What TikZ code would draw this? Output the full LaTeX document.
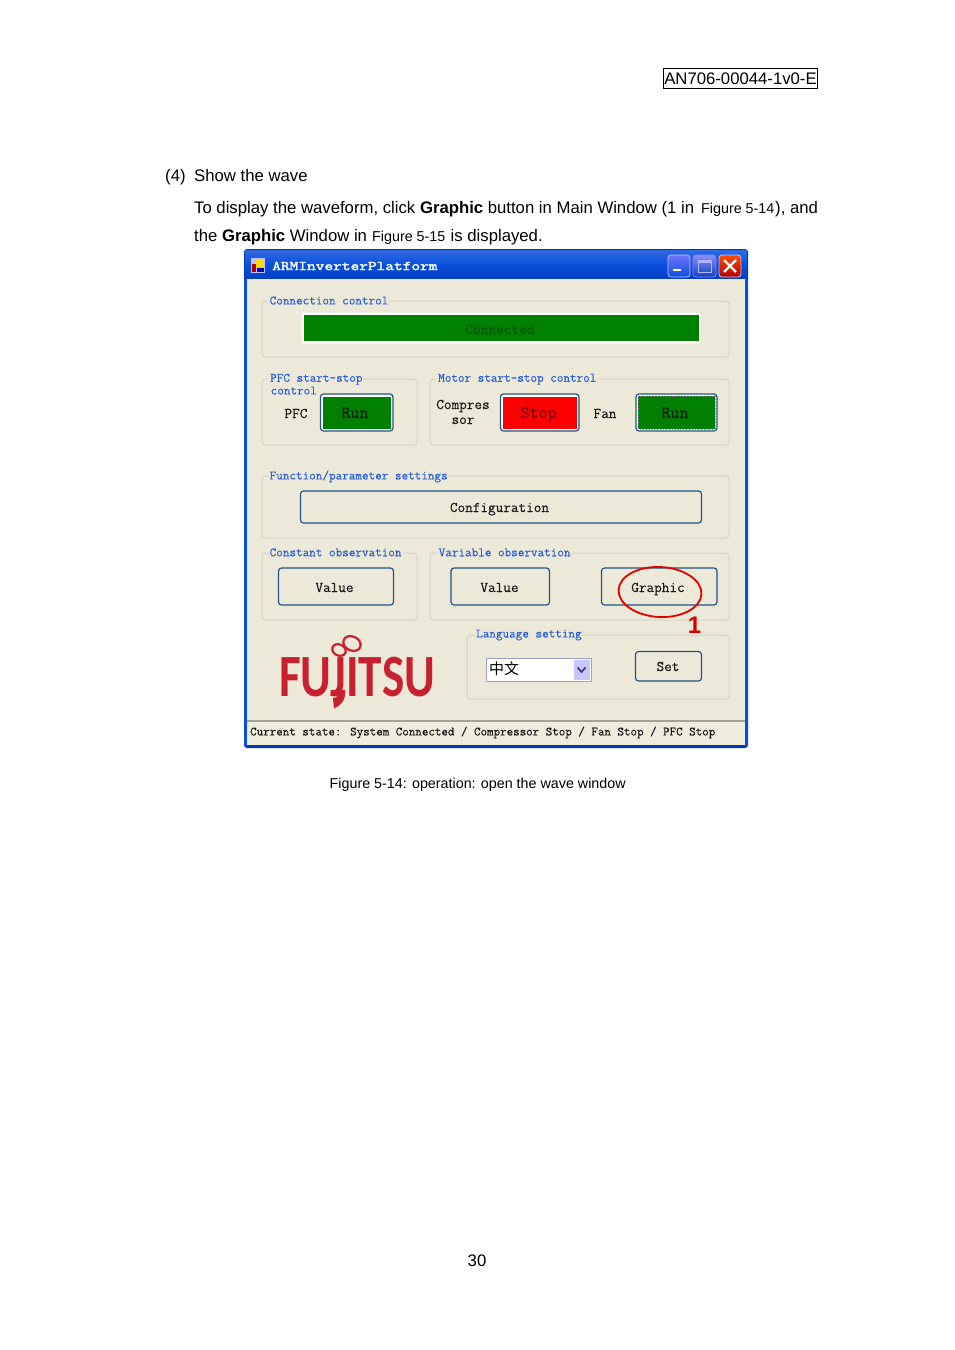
\documentclass[tikz,border=0pt]{standalone}
\usepackage{fontspec}
\setmainfont{Liberation Sans}
\newfontfamily\cjkfont{Noto Sans CJK SC}
\newfontfamily\logofont{Carlito}
\newfontfamily\guifont[FakeBold=0.35]{Latin Modern Mono}
\newfontfamily\titlefont[FakeBold=2.2]{Latin Modern Mono}
\usetikzlibrary{shapes.geometric}
\definecolor{winbg}{HTML}{ECE9D8}
\definecolor{xpblue}{HTML}{0A50DC}
\definecolor{xpdark}{HTML}{0038B8}
\definecolor{legendblue}{HTML}{2A5FD6}
\definecolor{grpline}{HTML}{D6D3C2}
\definecolor{btnline}{HTML}{1F5588}
\definecolor{okgreen}{HTML}{008000}
\definecolor{logored}{HTML}{C8202F}
\tikzset{
  body/.style={anchor=base west,inner sep=0pt,font=\fontsize{16.72}{20}\selectfont,text=black},
  smallbody/.style={anchor=base west,inner sep=0pt,font=\fontsize{14.3}{18}\selectfont,text=black},
  grp/.style={draw=grpline,line width=1pt,rounded corners=3pt},
  legendtxt/.style={anchor=west,inner sep=1pt,fill=winbg,text=legendblue,text height=8pt,text depth=2.5pt,font=\guifont\fontsize{12.8}{13}\selectfont},
  guilabel/.style={inner sep=0pt,text=black!90,text height=9pt,text depth=3pt,font=\guifont\fontsize{14.8}{13}\selectfont},
  biglabel/.style={guilabel,font=\guifont\fontsize{17.5}{13}\selectfont},
  xpbtn/.style={draw=btnline,line width=1.2pt,rounded corners=3pt,fill=winbg},
  capbtn/.style={draw=white!75!blue,line width=.8pt,rounded corners=3pt},
}
\begin{document}
\begin{tikzpicture}[x=1pt,y=-1pt]
\useasboundingbox[fill=white] (0,0) rectangle (954,1350);
% page text
\node[body,draw=black,line width=.8pt,anchor=center,minimum width=154.5pt,minimum height=20.5pt] (docid) at (740.5,78.5) {AN706-00044-1v0-E};
\node[body] (stepno) at (165,181) {(4)};
\node[body] (steptxt) at (194,181) {Show the wave};
\node[body] (l1a) at (194,213) {To display the waveform, click \textbf{Graphic} button in Main Window (1 in};
\node[smallbody] (l1b) at (701,213) {Figure 5-14};
\node[body] (l1c) at (775,213) {), and};
\node[body] (l2a) at (194,241) {the \textbf{Graphic} Window in};
\node[smallbody] (l2b) at (372,241) {Figure 5-15};
\node[body] (l2c) at (450.5,241) {is displayed.};
\node[smallbody] (cap) at (329.5,788) {Figure 5-14: operation: open the wave window};
\node[body] (pageno) at (467.5,1266) {30};
% window
\fill[xpdark,rounded corners=3pt] (244,249) rectangle (748,748);
\shade[top color=xpblue!85!white,bottom color=xpdark!70!xpblue,middle color=xpblue] (245,250) rectangle (747,279);
\fill[winbg] (247,279) rectangle (745,745);
\fill[xpblue] (244,279) rectangle (247,746);
\fill[xpblue] (745,279) rectangle (748,746);
% title bar
\fill[white!75!blue] (251,258) rectangle (265,273);
\fill[red!70!black] (252,264) rectangle (256,272);
\fill[yellow!80!orange] (256,258.5) rectangle (264,267);
\fill[blue!70!black] (257,268) rectangle (264,272);
\node[anchor=west,inner sep=0pt,text=white,xscale=1.27,font=\titlefont\fontsize{13.3}{14}\selectfont] (title) at (272,266) {ARMInverterPlatform};
\shade[capbtn,top color=blue!55!white,bottom color=xpblue] (668,255) rectangle (690,277);
\fill[white] (673,268.5) rectangle (681,271);
\shade[capbtn,draw=white!50!blue,top color=blue!45!white,bottom color=xpblue!85!black] (693,255) rectangle (716,277);
\draw[blue!30!white,line width=1pt] (698,260) rectangle (711,272);
\fill[blue!30!white] (698,260) rectangle (711,262.5);
\shade[capbtn,top color=orange!60!red,bottom color=red!70!black] (719,255) rectangle (741,277);
\draw[white,line width=2.2pt] (724,260) -- (736,272) (736,260) -- (724,272);
% group boxes
\draw[grp] (262,301) rectangle (729,357);
\draw[grp] (262,379) rectangle (417,445);
\draw[grp] (430,379) rectangle (729,445);
\draw[grp] (262,476) rectangle (729,538);
\draw[grp] (262,553) rectangle (417,620);
\draw[grp] (430,553) rectangle (729,620);
\draw[grp] (467,635) rectangle (729,699);
\node[legendtxt] (lgconn) at (268.5,301.7) {Connection control};
\node[legendtxt] (lgpfc) at (269,379) {PFC start-stop};
\node[legendtxt] (lgpfc2) at (269.5,391.7) {control};
\node[legendtxt] (lgmotor) at (437,379) {Motor start-stop control};
\node[legendtxt] (lgfunc) at (268.5,476.7) {Function/parameter settings};
\node[legendtxt] (lgconst) at (268.5,553.5) {Constant observation};
\node[legendtxt] (lgvar) at (437.5,553.5) {Variable observation};
\node[legendtxt] (lglang) at (475,634.7) {Language setting};
% connection
\draw[grpline!60!white,line width=1pt,rounded corners=2pt,fill=white] (301,312) rectangle (701,344);
\fill[okgreen] (303.5,315) rectangle (698.5,341);
\node[guilabel,text=black!35!okgreen,font=\guifont\fontsize{15}{13}\selectfont] (connected) at (500,331) {Connected};
% PFC
\node[guilabel] (pfc) at (296,415) {PFC};
\draw[xpbtn,fill=white] (320.5,394) rectangle (393,431);
\fill[okgreen] (323,396.5) rectangle (390.5,428.5);
\node[biglabel] (run1) at (355,415) {Run};
% motor
\node[guilabel] (compr1) at (463,406) {Compres};
\node[guilabel] (compr2) at (463,421) {sor};
\draw[xpbtn,fill=white] (500.5,394) rectangle (579,431);
\fill[red] (503,396.5) rectangle (576.5,428.5);
\node[biglabel,text=red!45!black] (stop) at (538.5,415) {Stop};
\node[guilabel] (fan) at (605,415) {Fan};
\draw[xpbtn,fill=white] (636,394) rectangle (717,431);
\fill[okgreen] (638,396) rectangle (715,429);
\draw[violet!60!white,line width=.9pt,dotted] (638,396) rectangle (715,429);
\node[biglabel] (run2) at (675,415) {Run};
% configuration
\draw[xpbtn] (300.5,491) rectangle (701.5,523);
\node[guilabel] (config) at (499.5,509) {Configuration};
% observation
\draw[xpbtn] (278.5,568) rectangle (393.5,605);
\node[guilabel] (val1) at (334.5,589) {Value};
\draw[xpbtn] (451,568) rectangle (549.5,605);
\node[guilabel] (val2) at (499.5,589) {Value};
\draw[xpbtn] (601.5,568) rectangle (717,605);
\node[guilabel] (graphic) at (658,589) {Graphic};
% language
\draw[blue!25!gray!60!white,line width=1pt,fill=white] (486.5,658.5) rectangle (591.5,681.5);
\node[anchor=west,inner sep=0pt,font=\cjkfont\fontsize{15}{15}\selectfont] (lang) at (489,669) {中文};
\fill[blue!22!white] (573.5,660) rectangle (590,680);
\draw[blue!40!black!80,line width=1.6pt] (577.5,667.5) -- (581.5,672) -- (585.5,667.5);
\draw[xpbtn] (635.5,651.5) rectangle (701.5,681);
\node[guilabel] (setb) at (668,668) {Set};
% logo
\node[anchor=base west,inner sep=0pt,text=logored,xscale=.785,font=\logofont\bfseries\fontsize{60}{60}\selectfont] (logo) at (279,696.5) {FUJITSU};
\fill[logored] (333,698) .. controls (337,698) and (339,695) .. (339,690) -- (345,690) .. controls (346,699) and (342,705) .. (334,708.5) -- cycle;
\draw[logored,line width=2.2pt,rotate around={-25:(339,650)}] (339,650) ellipse (7pt and 5.5pt);
\draw[logored,line width=2.2pt,rotate around={-25:(352,643.5)}] (352,643.5) ellipse (9pt and 7pt);
% status bar
\fill[black!30!winbg] (247,720) rectangle (745,722);
\fill[winbg!85!white] (247,722) rectangle (745,744);
\node[anchor=west,inner sep=0pt,text=black!90,font=\guifont\fontsize{12.66}{13}\selectfont] (status) at (250,732.5) {Current state: System Connected / Compressor Stop / Fan Stop / PFC Stop};
% highlight
\draw[red!90!black,line width=1.8pt,rotate around={-3:(660,592)}] (660,592) ellipse (41.5pt and 25pt);
\node[anchor=base,inner sep=0pt,text=red!85!black,font=\bfseries\fontsize{24}{24}\selectfont] (one) at (694.5,633) {1};
\end{tikzpicture}
\end{document}
